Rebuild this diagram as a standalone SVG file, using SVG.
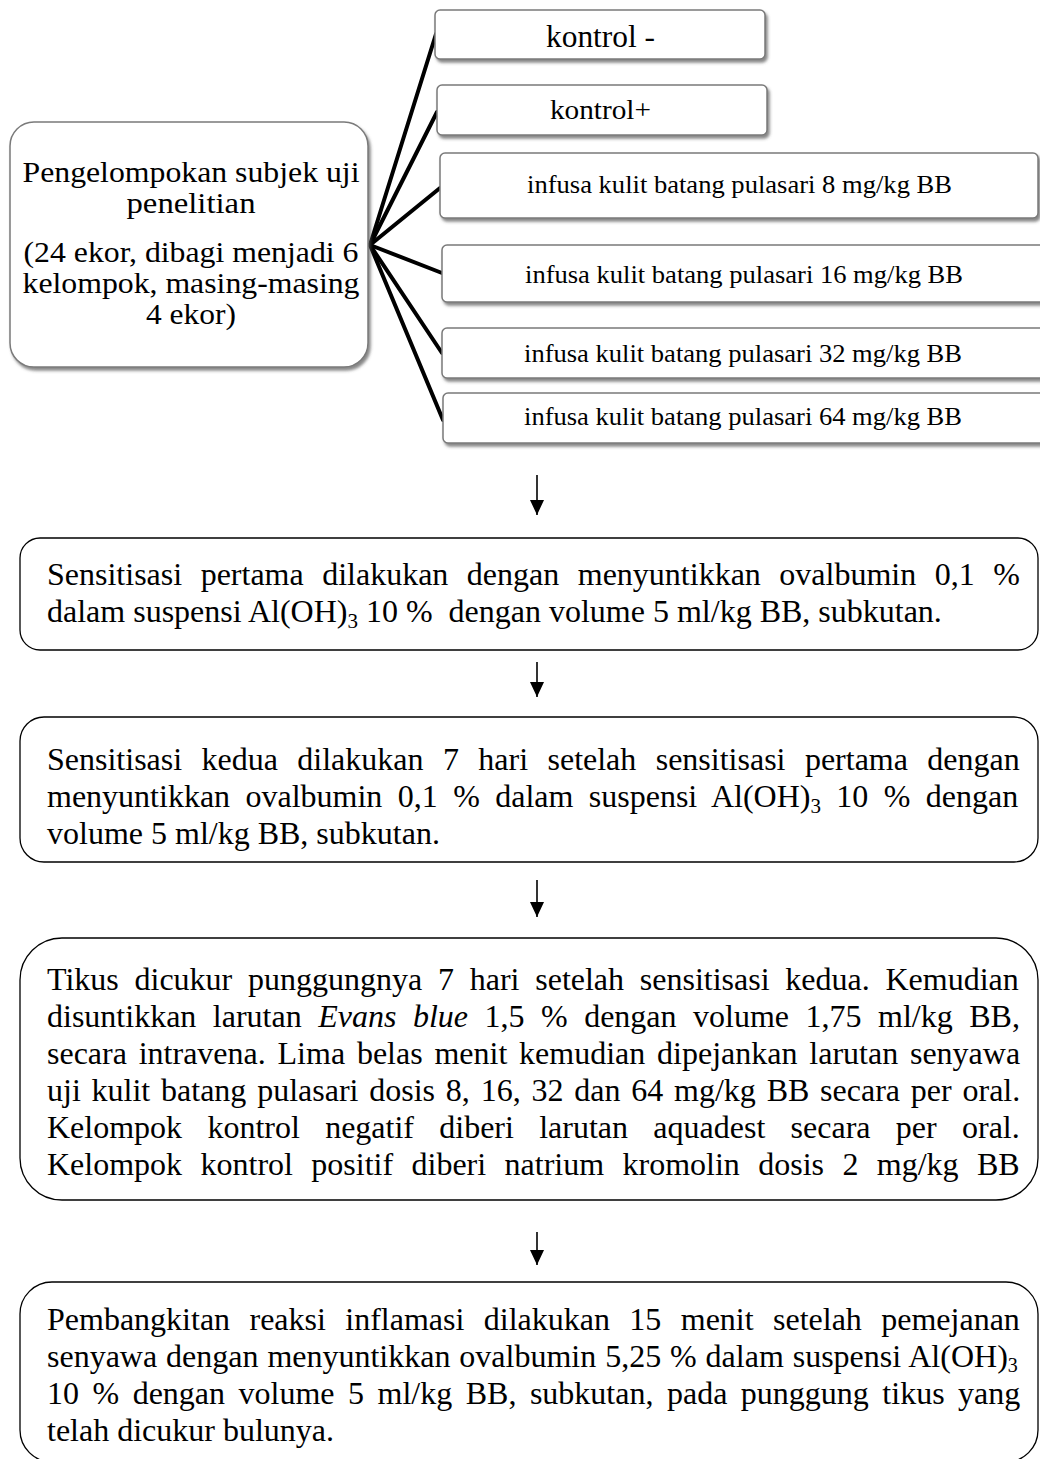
<svg xmlns="http://www.w3.org/2000/svg" width="1040" height="1459" viewBox="0 0 1040 1459">
<style>
.t{font-family:"Liberation Serif","Times New Roman",serif;fill:#000}
.sm{fill:#fff;stroke:#7a7a7a;stroke-width:1.5;filter:url(#sh)}
.bx{fill:#fff;stroke:#000;stroke-width:1.3}
.conn line{stroke:#000;stroke-width:4;stroke-linecap:round}
.arr{stroke:#000;stroke-width:1.6;marker-end:url(#ah)}
.b{font-size:32px}
</style>
<defs>
<filter id="sh" x="-5%" y="-10%" width="115%" height="135%">
<feDropShadow dx="2" dy="3" stdDeviation="1.5" flood-color="#555" flood-opacity="0.7"/>
</filter>
<marker id="ah" markerUnits="userSpaceOnUse" markerWidth="14" markerHeight="16" refX="7" refY="15" orient="0" viewBox="0 0 14 16">
<path d="M0,0 L14,0 L7,15 z" fill="#000"/>
</marker>
</defs>
<rect width="1040" height="1459" fill="#fff"/>

<g id="connectors" class="conn">
<line x1="370" y1="245" x2="436" y2="34"/>
<line x1="370" y1="245" x2="437" y2="112"/>
<line x1="370" y1="245" x2="440" y2="188"/>
<line x1="370" y1="245" x2="442" y2="273"/>
<line x1="370" y1="245" x2="442" y2="353"/>
<line x1="370" y1="245" x2="443" y2="420"/>
</g>

<g id="n-grouping">
<rect class="sm" x="10" y="122" width="358" height="245" rx="24"/>
<text class="t" font-size="29" text-anchor="middle" x="191" y="182" textLength="337" lengthAdjust="spacingAndGlyphs">Pengelompokan subjek uji</text>
<text class="t" font-size="29" text-anchor="middle" x="191" y="213" textLength="129" lengthAdjust="spacingAndGlyphs">penelitian</text>
<text class="t" font-size="29" text-anchor="middle" x="191" y="262" textLength="335" lengthAdjust="spacingAndGlyphs">(24 ekor, dibagi menjadi 6</text>
<text class="t" font-size="29" text-anchor="middle" x="191" y="293" textLength="337" lengthAdjust="spacingAndGlyphs">kelompok, masing-masing</text>
<text class="t" font-size="29" text-anchor="middle" x="191" y="324" textLength="90" lengthAdjust="spacingAndGlyphs">4 ekor)</text>
</g>

<g id="n-kontrol-neg">
<rect class="sm" x="435" y="10" width="330" height="49" rx="5"/>
<text class="t" font-size="31" x="546" y="47" textLength="109" lengthAdjust="spacingAndGlyphs">kontrol -</text>
</g>
<g id="n-kontrol-pos">
<rect class="sm" x="437" y="85" width="330" height="50" rx="5"/>
<text class="t" font-size="28" x="550" y="119" textLength="101" lengthAdjust="spacingAndGlyphs">kontrol+</text>
</g>
<g id="n-dose8">
<rect class="sm" x="440" y="153" width="598" height="65" rx="5"/>
<text class="t" font-size="26" x="527" y="193" textLength="425" lengthAdjust="spacingAndGlyphs">infusa kulit batang pulasari 8 mg/kg BB</text>
</g>
<g id="n-dose16">
<rect class="sm" x="442" y="245" width="604" height="57" rx="5"/>
<text class="t" font-size="26" x="525" y="283" textLength="438" lengthAdjust="spacingAndGlyphs">infusa kulit batang pulasari 16 mg/kg BB</text>
</g>
<g id="n-dose32">
<rect class="sm" x="442" y="328" width="604" height="50" rx="5"/>
<text class="t" font-size="26" x="524" y="362" textLength="438" lengthAdjust="spacingAndGlyphs">infusa kulit batang pulasari 32 mg/kg BB</text>
</g>
<g id="n-dose64">
<rect class="sm" x="443" y="393" width="603" height="50" rx="5"/>
<text class="t" font-size="26" x="524" y="425" textLength="438" lengthAdjust="spacingAndGlyphs">infusa kulit batang pulasari 64 mg/kg BB</text>
</g>

<g id="arrows">
<line class="arr" x1="537" y1="475" x2="537" y2="515"/>
<line class="arr" x1="537" y1="662" x2="537" y2="697"/>
<line class="arr" x1="537" y1="880" x2="537" y2="917"/>
<line class="arr" x1="537" y1="1232" x2="537" y2="1265"/>
</g>

<g id="n-sens1">
<rect class="bx" x="20" y="538" width="1018" height="112" rx="20"/>
<text class="t b" x="47" y="585" word-spacing="10.5">Sensitisasi pertama dilakukan dengan menyuntikkan ovalbumin 0,1 %</text>
<text class="t b" x="47" y="622">dalam suspensi Al(OH)<tspan font-size="21" dy="6">3</tspan><tspan dy="-6"> 10 % &#160;dengan volume 5 ml/kg BB, subkutan.</tspan></text>
</g>

<g id="n-sens2">
<rect class="bx" x="20" y="717" width="1018" height="145" rx="24"/>
<text class="t b" x="47" y="770" word-spacing="11.4">Sensitisasi kedua dilakukan 7 hari setelah sensitisasi pertama dengan</text>
<text class="t b" x="47" y="807" word-spacing="7.4">menyuntikkan ovalbumin 0,1 % dalam suspensi Al(OH)<tspan font-size="21" dy="6">3</tspan><tspan dy="-6"> 10 % dengan</tspan></text>
<text class="t b" x="47" y="844">volume 5 ml/kg BB, subkutan.</text>
</g>

<g id="n-treatment">
<rect class="bx" x="20" y="938" width="1018" height="262" rx="42"/>
<text class="t b" x="47" y="990" word-spacing="7.75">Tikus dicukur punggungnya 7 hari setelah sensitisasi kedua. Kemudian</text>
<text class="t b" x="47" y="1027" word-spacing="8.5">disuntikkan larutan <tspan font-style="italic">Evans blue</tspan> 1,5 % dengan volume 1,75 ml/kg BB,</text>
<text class="t b" x="47" y="1064" word-spacing="3.8">secara intravena. Lima belas menit kemudian dipejankan larutan senyawa</text>
<text class="t b" x="47" y="1101" word-spacing="2.8">uji kulit batang pulasari dosis 8, 16, 32 dan 64 mg/kg BB secara per oral.</text>
<text class="t b" x="47" y="1138" word-spacing="17.3">Kelompok kontrol negatif diberi larutan aquadest secara per oral.</text>
<text class="t b" x="47" y="1175" word-spacing="10.4">Kelompok kontrol positif diberi natrium kromolin dosis 2 mg/kg BB</text>
</g>

<g id="n-inflam">
<rect class="bx" x="20" y="1282" width="1018" height="180" rx="32"/>
<text class="t b" x="47" y="1330" word-spacing="11.4">Pembangkitan reaksi inflamasi dilakukan 15 menit setelah pemejanan</text>
<text class="t b" x="47" y="1367" word-spacing="0.9">senyawa dengan menyuntikkan ovalbumin 5,25 % dalam suspensi Al(OH)<tspan font-size="20" dy="5">3</tspan></text>
<text class="t b" x="47" y="1404" word-spacing="5.5">10 % dengan volume 5 ml/kg BB, subkutan, pada punggung tikus yang</text>
<text class="t b" x="47" y="1441">telah dicukur bulunya.</text>
</g>
</svg>
